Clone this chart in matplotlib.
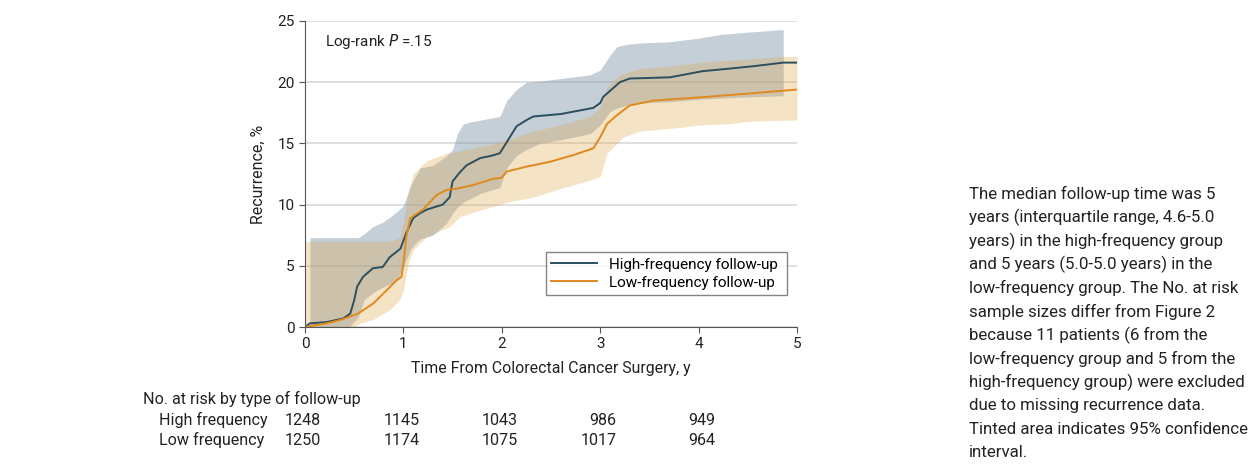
import numpy as np
import matplotlib.pyplot as plt
from matplotlib.transforms import blended_transform_factory

plt.rcParams['font.family'] = ['Roboto', 'DejaVu Sans']

# cumulative recurrence curves (%)
hi_t = [0, 0.05, 0.22, 0.39, 0.46, 0.5, 0.53, 0.59, 0.69, 0.79, 0.86, 0.97, 1.03, 1.1, 1.17,
        1.24, 1.4, 1.47, 1.5, 1.57, 1.64, 1.78, 1.9, 1.98, 2.05, 2.15, 2.25, 2.32, 2.6, 2.93,
        3.0, 3.03, 3.13, 3.2, 3.3, 3.71, 4.04, 4.3, 4.55, 4.86, 5.0]
hi_v = [0, 0.3, 0.4, 0.7, 1.1, 2.2, 3.3, 4.1, 4.8, 4.9, 5.7, 6.4, 7.7, 8.9, 9.3,
        9.6, 10.0, 10.6, 11.9, 12.6, 13.2, 13.8, 14.0, 14.2, 15.1, 16.4, 16.9, 17.2, 17.4, 17.9,
        18.3, 18.8, 19.5, 20.0, 20.3, 20.4, 20.9, 21.1, 21.3, 21.6, 21.6]

lo_t = [0, 0.22, 0.37, 0.54, 0.69, 0.83, 0.93, 0.98, 1.0, 1.03, 1.07, 1.2, 1.34, 1.44, 1.54,
        1.71, 1.91, 2.0, 2.05, 2.25, 2.49, 2.73, 2.93, 3.0, 3.07, 3.17, 3.3, 3.54, 4.08, 4.55, 5.0]
lo_v = [0, 0.3, 0.6, 1.1, 1.9, 3.0, 3.8, 4.1, 5.2, 7.4, 8.9, 9.6, 10.8, 11.2, 11.3,
        11.6, 12.1, 12.2, 12.7, 13.1, 13.5, 14.05, 14.6, 15.5, 16.6, 17.3, 18.1, 18.5, 18.8, 19.1, 19.4]

# 95% CI bands
hi_ci_t = [0.05, 0.45, 0.54, 0.6, 0.69, 0.8, 0.9, 0.93, 1.0, 1.07, 1.13, 1.17, 1.3, 1.44, 1.5,
           1.55, 1.61, 1.71, 1.78, 1.98, 2.05, 2.15, 2.25, 2.39, 2.6, 2.9, 3.0, 3.1, 3.17, 3.27,
           3.4, 3.7, 4.0, 4.22, 4.52, 4.86]
hi_up = [7.3, 7.3, 7.3, 7.6, 8.2, 8.6, 9.2, 9.4, 9.9, 11.5, 12.4, 13.0, 13.2, 14.0, 14.5,
         15.8, 16.6, 16.8, 16.9, 17.2, 18.5, 19.4, 20.0, 20.1, 20.3, 20.6, 21.0, 22.2, 22.9, 23.1,
         23.2, 23.3, 23.6, 23.9, 24.1, 24.3]
hi_lo = [0, 0, 0.8, 2.2, 2.8, 3.3, 3.6, 3.8, 4.9, 6.3, 6.9, 7.2, 7.5, 8.5, 9.3,
         9.8, 10.2, 10.6, 10.9, 11.4, 13.0, 14.0, 14.5, 15.0, 15.3, 15.8, 16.5, 17.6, 17.9, 18.1,
         18.3, 18.4, 18.6, 18.7, 18.8, 18.9]

lo_ci_t = [0.0, 0.5, 0.56, 0.69, 0.86, 0.96, 1.0, 1.03, 1.05, 1.1, 1.2, 1.24, 1.44, 1.47, 1.575,
           1.71, 1.98, 2.05, 2.32, 2.59, 2.9, 3.0, 3.07, 3.17, 3.23, 3.3, 3.4, 3.8, 4.0, 4.3,
           4.5, 4.86, 5.0]
lo_up = [7.0, 7.0, 7.0, 7.0, 7.0, 7.3, 8.5, 10.0, 11.0, 12.5, 13.3, 13.6, 14.2, 14.2, 14.4,
         14.6, 15.1, 15.3, 16.0, 16.5, 17.2, 18.0, 19.6, 20.4, 20.7, 20.9, 21.1, 21.4, 21.6, 21.8,
         21.9, 22.1, 22.1]
lo_lo = [0, 0, 0.3, 0.6, 1.4, 2.2, 3.0, 4.4, 5.2, 6.3, 7.1, 7.4, 8.1, 8.2, 9.0,
         9.4, 10.0, 10.2, 10.6, 11.3, 12.0, 12.3, 14.2, 15.0, 15.5, 15.7, 16.0, 16.3, 16.5, 16.6,
         16.8, 16.9, 16.9]

# number at risk table
risk_years = [0, 1, 2, 3, 4]
risk_groups = ['High frequency', 'Low frequency']
risk_hi = [1248, 1145, 1043, 986, 949]
risk_lo = [1250, 1174, 1075, 1017, 964]

caption = ["The median follow-up time was 5",
           "years (interquartile range, 4.6-5.0",
           "years) in the high-frequency group",
           "and 5 years (5.0-5.0 years) in the",
           "low-frequency group. The No. at risk",
           "sample sizes differ from Figure 2",
           "because 11 patients (6 from the",
           "low-frequency group and 5 from the",
           "high-frequency group) were excluded",
           "due to missing recurrence data.",
           "Tinted area indicates 95% confidence",
           "interval."]

hi_col = '#2b4f5e'
lo_col = '#e08a1e'
txt_col = '#222222'
W, H = 1258, 465

fig = plt.figure(figsize=(W / 100, H / 100), dpi=100)
ax = fig.add_axes([305 / W, 1 - 327 / H, (797 - 305) / W, (327 - 21) / H])

ax.fill_between(hi_ci_t, hi_lo, hi_up, color='#7d96a8', alpha=0.45, lw=0)
ax.fill_between(lo_ci_t, lo_lo, lo_up, color='#e0a850', alpha=0.32, lw=0)
ax.plot(hi_t, hi_v, color=hi_col, lw=1.4, label='High-frequency follow-up')
ax.plot(lo_t, lo_v, color=lo_col, lw=1.4, label='Low-frequency follow-up')

ax.set_xlim(0, 5)
ax.set_ylim(0, 25)
ax.set_xticks(range(6))
ax.set_yticks(range(0, 26, 5))
ax.yaxis.grid(True, color='#d9d9d9', lw=1.2)
ax.set_axisbelow(True)
for s in ['top', 'right']:
    ax.spines[s].set_visible(False)
for s in ['left', 'bottom']:
    ax.spines[s].set_color('#555555')
ax.tick_params(colors=txt_col, labelsize=11, length=4, color='#555555')
ax.set_xlabel('Time From Colorectal Cancer Surgery, y', fontsize=11.4, color=txt_col, labelpad=7)
ax.set_ylabel('Recurrence, %', fontsize=11.4, color=txt_col, labelpad=8)

ax.text(0.2, 23.3, 'Log-rank $\\it{P}$ =.15', fontsize=11, color=txt_col, va='center')

leg = ax.legend(loc='lower left', bbox_to_anchor=((546 - 305) / (797 - 305), (327 - 295) / 306,
                (787 - 546) / (797 - 305), (295 - 241) / 306),
                mode='expand', fontsize=11, frameon=True, fancybox=False, handlelength=3.0,
                borderaxespad=0, labelspacing=0.25, borderpad=0.35)
leg.get_frame().set_edgecolor('#666666')
leg.get_frame().set_linewidth(1.0)

# at-risk table under the axis
tr = blended_transform_factory(ax.transData, fig.transFigure)
fig.text(143 / W, 1 - 399 / H, 'No. at risk by type of follow-up', fontsize=11.6, va='center', color=txt_col)
for i, (g, vals) in enumerate(zip(risk_groups, [risk_hi, risk_lo])):
    y = 1 - (420 + 20 * i) / H
    fig.text(159 / W, y, g, fontsize=11.6, va='center', color=txt_col)
    for yr, v in zip(risk_years, vals):
        ax.text(yr + 0.165, y, str(v), transform=tr, fontsize=11.6, va='center', ha='right',
                color=txt_col, clip_on=False)

# caption on the right
for i, line in enumerate(caption):
    fig.text(969 / W, 1 - (194 + 23.5 * i) / H, line, fontsize=12.2, va='center', color=txt_col)

fig.savefig('out.png', dpi=100)
